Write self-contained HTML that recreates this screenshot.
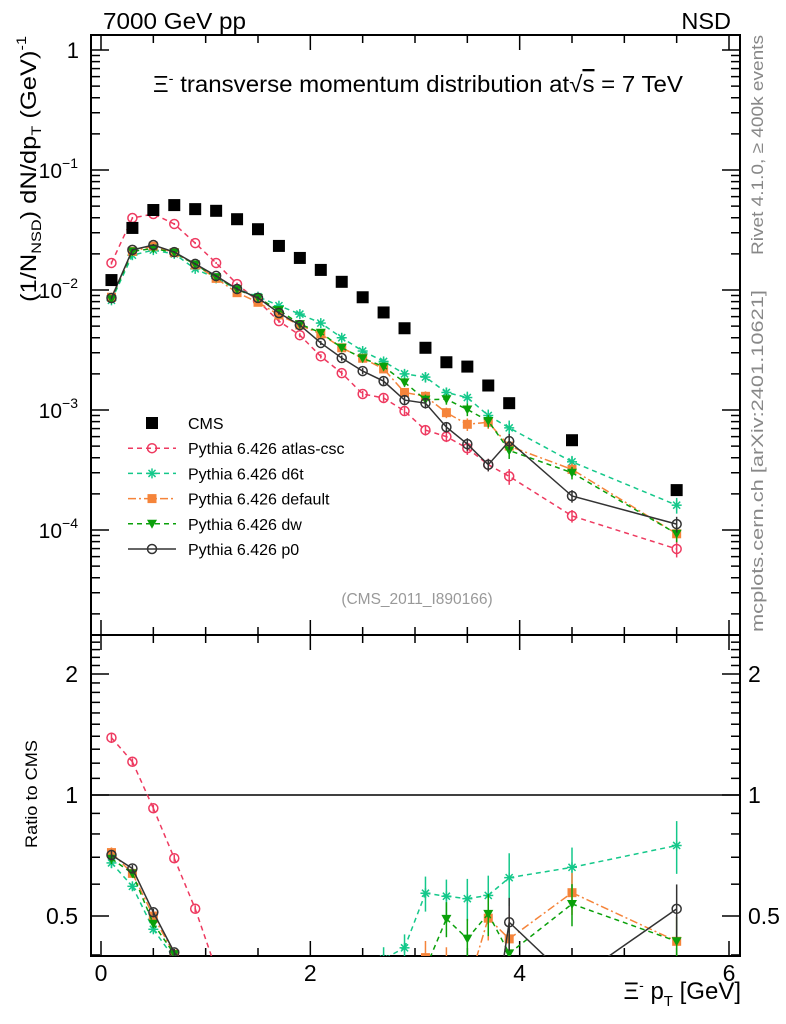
<!DOCTYPE html>
<html><head><meta charset="utf-8">
<style>
html,body{margin:0;padding:0;background:#fff;overflow:hidden;width:786px;height:1024px;}
svg{display:block;}
svg text{font-family:"Liberation Sans",sans-serif;}
</style></head>
<body>
<svg id="chart" width="786" height="1024" viewBox="0 0 786 1024" xmlns="http://www.w3.org/2000/svg">
<text x="103" y="29" font-size="23.5" textLength="143" lengthAdjust="spacingAndGlyphs">7000 GeV pp</text>
<text x="731" y="29" font-size="23.5" text-anchor="end">NSD</text>
<text x="153" y="92" font-size="23" textLength="530" lengthAdjust="spacingAndGlyphs">Ξ<tspan dy="-9" font-size="14">-</tspan><tspan dy="9"> transverse momentum distribution at</tspan><tspan>√</tspan><tspan text-decoration="overline">s</tspan> = 7 TeV</text>
<text transform="translate(763,255) rotate(-90)" font-size="17" fill="#888" textLength="220" lengthAdjust="spacingAndGlyphs">Rivet 4.1.0, ≥ 400k events</text>
<text transform="translate(763,632) rotate(-90)" font-size="17" fill="#888" textLength="342" lengthAdjust="spacingAndGlyphs">mcplots.cern.ch [arXiv:2401.10621]</text>
<text transform="translate(36,302) rotate(-90)" font-size="22" textLength="266" lengthAdjust="spacingAndGlyphs">(1/N<tspan dy="5" font-size="14">NSD</tspan><tspan dy="-5">) dN/dp</tspan><tspan dy="5" font-size="14">T</tspan><tspan dy="-5"> (GeV)</tspan><tspan dy="-10" font-size="14">-1</tspan></text>
<text transform="translate(37,848) rotate(-90)" font-size="17" textLength="108" lengthAdjust="spacingAndGlyphs">Ratio to CMS</text>
<text x="417" y="604" font-size="15.5" fill="#999" text-anchor="middle">(CMS_2011_I890166)</text>
<text x="741" y="999" font-size="24" text-anchor="end">Ξ<tspan dy="-9" font-size="14">-</tspan><tspan dy="9"> p</tspan><tspan dy="7" font-size="15">T</tspan><tspan dy="-7"> [GeV]</tspan></text>
<g id="plot"></g>
</svg>
<script>
const xs = [0.1,0.3,0.5,0.7,0.9,1.1,1.3,1.5,1.7,1.9,2.1,2.3,2.5,2.7,2.9,3.1,3.3,3.5,3.7,3.9,4.5,5.5];
const cms = [0.0121,0.0329,0.0464,0.051,0.0472,0.0457,0.0389,0.0321,0.0233,0.0185,0.0147,0.0117,0.0087,0.0065,0.0048,0.0033,0.0025,0.0023,0.0016,0.00114,0.00056,0.000215];
const atlas = [0.0168,0.0398,0.043,0.0355,0.0246,0.0168,0.0112,0.0081,0.0055,0.0042,0.0028,0.00203,0.00136,0.00126,0.00098,0.00068,0.0006,0.00048,0.00035,0.00028,0.000131,0.0000695];
const d6t = [0.0082,0.0195,0.0215,0.02,0.015,0.0125,0.0102,0.0088,0.0074,0.0063,0.0053,0.004,0.0031,0.00254,0.002,0.00188,0.0014,0.00127,0.0009,0.00071,0.00037,0.000161];
const deflt = [0.0087,0.021,0.0232,0.0205,0.0162,0.0125,0.0095,0.0079,0.0062,0.0051,0.0043,0.0033,0.0027,0.0022,0.0014,0.0013,0.00095,0.00076,0.00079,0.0005,0.00032,0.000093];
const dw = [0.0084,0.021,0.0222,0.0205,0.0163,0.0128,0.0101,0.0086,0.0068,0.0052,0.0044,0.0033,0.0027,0.0023,0.0017,0.00122,0.00123,0.00101,0.00081,0.00046,0.0003,0.000093];
const p0 = [0.00858,0.0216,0.0237,0.0207,0.0165,0.0131,0.0102,0.0086,0.00643,0.0051,0.00362,0.00271,0.00211,0.00174,0.00121,0.00114,0.00072,0.00052,0.00035,0.00055,0.000192,0.000112];
const relErr = [0.03,0.02,0.02,0.02,0.02,0.02,0.03,0.03,0.03,0.04,0.04,0.05,0.06,0.07,0.08,0.1,0.1,0.12,0.12,0.15,0.12,0.15];
const xTicks = [0,2,4,6];
const yDecades = [-4,-3,-2,-1,0];
const ratioTicks = [0.5,1,2];

const NS="http://www.w3.org/2000/svg";
const g=document.getElementById('plot');
const L=91,R=740,T=35,MB=635,RB=956;
const X=v=>101+v*(729-101)/6;
const Y=v=>50-120*Math.log10(v);
const RY=v=>795-121*Math.log2(v);
function el(t,a,p){const e=document.createElementNS(NS,t);for(const k in a)e.setAttribute(k,a[k]);(p||g).appendChild(e);return e;}

const defs=el('defs',{});
const c1=el('clipPath',{id:'cm'},defs);el('rect',{x:L,y:T,width:R-L,height:MB-T},c1);
const c2=el('clipPath',{id:'cr'},defs);el('rect',{x:L,y:MB,width:R-L,height:RB-MB},c2);

const f1=el('rect',{x:L,y:T,width:R-L,height:MB-T,fill:'none',stroke:'#000','stroke-width':2});


const f2=el('rect',{x:L,y:MB,width:R-L,height:RB-MB,fill:'none',stroke:'#000','stroke-width':2});



for(let v=0;v<=6.001;v+=0.5){
  const major=Math.abs(v-Math.round(v/2)*2)<1e-6, len=major?15:8, x=X(v);
  [[T,1],[MB,-1],[MB,1],[RB,-1]].forEach(([y0,d])=>el('line',{x1:x,x2:x,y1:y0,y2:y0+d*len,stroke:'#000','stroke-width':1.5}));
}
xTicks.forEach(v=>{const t=el('text',{x:X(v),y:981,'font-size':23,'text-anchor':'middle'});t.textContent=v;

});

for(let d=-5;d<=0;d++){for(let m=1;m<=9;m++){const v=m*Math.pow(10,d),y=Y(v);if(y<T||y>MB)continue;
 const len=m==1?18:9;
 el('line',{x1:L,x2:L+len,y1:y,y2:y,stroke:'#000','stroke-width':1.5});
 el('line',{x1:R,x2:R-len,y1:y,y2:y,stroke:'#000','stroke-width':1.5});}}
yDecades.forEach(d=>{const y=Y(Math.pow(10,d));let t;
 if(d===0){t=el('text',{x:79,y:y+8,'font-size':22,'text-anchor':'end'});t.textContent='1';}
 else{t=el('text',{x:78,y:y+8,'font-size':21,'text-anchor':'end'});t.textContent='10';
  const s=el('tspan',{dy:-10,'font-size':14},t);s.textContent='−'+(-d);}
 
 });

for(let v=0.4;v<=2.51;v+=0.1){const y=RY(v);if(y<MB||y>RB)continue;
 const major=[0.5,1,2].some(q=>Math.abs(q-v)<1e-6);const len=major?18:9;
 el('line',{x1:L,x2:L+len,y1:y,y2:y,stroke:'#000','stroke-width':1.5});
 el('line',{x1:R,x2:R-len,y1:y,y2:y,stroke:'#000','stroke-width':1.5});}
ratioTicks.forEach(v=>{const y=RY(v);
 const t=el('text',{x:78,y:y+8,'font-size':23,'text-anchor':'end'});t.textContent=v;
 
 
 const t2=el('text',{x:748,y:y+8,'font-size':23});t2.textContent=v;
 
 });
el('line',{x1:L,x2:R,y1:RY(1),y2:RY(1),stroke:'#000','stroke-width':1.5});

function marker(parent,type,x,y,col){
 if(type==='sq')return el('rect',{x:x-6,y:y-6,width:12,height:12,fill:'#000'},parent);
 if(type==='circ')return el('circle',{cx:x,cy:y,r:4.5,fill:'none',stroke:col,'stroke-width':1.5},parent);
 if(type==='fsq')return el('rect',{x:x-4.5,y:y-4.5,width:9,height:9,fill:col},parent);
 if(type==='tri')return el('path',{d:`M${x-5},${y-4}L${x+5},${y-4}L${x},${y+5}Z`,fill:col},parent);
 if(type==='star'){const gg=el('g',{stroke:col,'stroke-width':1.5},parent);
  for(let a=0;a<4;a++){const an=a*Math.PI/4;el('line',{x1:x-5*Math.cos(an),y1:y-5*Math.sin(an),x2:x+5*Math.cos(an),y2:y+5*Math.sin(an)},gg);}return gg;}
}
// clip a polyline in y to [y0,y1]; returns list of segments
function clipSegs(pts,y0,y1){
 const out=[];
 for(let i=0;i<pts.length-1;i++){
  let [ax,ay]=pts[i],[bx,by]=pts[i+1];
  if((ay>y1&&by>y1)||(ay<y0&&by<y0))continue;
  const cl=(px,py,qx,qy)=>{
   if(py>y1){const t=(y1-qy)/(py-qy);return [qx+t*(px-qx),y1];}
   if(py<y0){const t=(y0-qy)/(py-qy);return [qx+t*(px-qx),y0];}
   return [px,py];};
  const A=cl(ax,ay,bx,by),B=cl(bx,by,ax,ay);
  out.push([A,B]);
 }
 return out;
}
const series=[
 {name:'atlas-csc',d:atlas,col:'#ee3a60',m:'circ',dash:'5,4'},
 {name:'d6t',d:d6t,col:'#14c88a',m:'star',dash:'5,4'},
 {name:'default',d:deflt,col:'#f5843a',m:'fsq',dash:'8,3,2,3'},
 {name:'dw',d:dw,col:'#0aa00a',m:'tri',dash:'5,4'},
 {name:'p0',d:p0,col:'#333333',m:'circ',dash:''}
];
const gm=el('g',{'clip-path':'url(#cm)'});
const gr=el('g',{'clip-path':'url(#cr)'});
series.forEach(s=>{
 const sg=el('g',{},gm);
 
 
 const pts=xs.map((x,i)=>X(x)+','+Y(s.d[i])).join(' ');
 el('polyline',{points:pts,fill:'none',stroke:s.col,'stroke-width':1.5,'stroke-dasharray':s.dash},sg);
 const rg=el('g',{},gr);
 
 
 const rpts=xs.map((x,i)=>[X(x),RY(s.d[i]/cms[i])]);
 clipSegs(rpts,MB-2,RB+2).forEach(([A,B])=>el('line',{x1:A[0],y1:A[1],x2:B[0],y2:B[1],stroke:s.col,'stroke-width':1.5,'stroke-dasharray':s.dash},rg));
 xs.forEach((x,i)=>{
  const v=s.d[i],e=relErr[i];
  el('line',{x1:X(x),x2:X(x),y1:Y(v*(1+e)),y2:Y(v*(1-e)),stroke:s.col,'stroke-width':1.5},sg);
  marker(sg,s.m,X(x),Y(v),s.col);
  const r=v/cms[i];
  const ry=RY(r);
  if(ry<MB-8||ry>RB+8)return;
  el('line',{x1:X(x),x2:X(x),y1:Math.max(MB,RY(r*(1+e))),y2:Math.min(RB,RY(r*(1-e))),stroke:s.col,'stroke-width':1.5},rg);
  marker(rg,s.m,X(x),ry,s.col);
 });
});
const cg=el('g',{},gm);


xs.forEach((x,i)=>marker(cg,'sq',X(x),Y(cms[i]),'#000'));

const lg=el('g',{});


const entries=[{label:'CMS',m:'sq',col:'#000',dash:null}].concat(series.map(s=>({label:'Pythia 6.426 '+s.name,m:s.m,col:s.col,dash:s.dash})));
entries.forEach((en,i)=>{
 const y=423+i*25.2;
 const eg=el('g',{},lg);
 
 
 if(en.dash!==null)el('line',{x1:128,x2:176,y1:y,y2:y,stroke:en.col,'stroke-width':1.5,'stroke-dasharray':en.dash},eg);
 marker(eg,en.m,152,y,en.col);
 const t=el('text',{x:188,y:y+6,'font-size':16},eg);t.textContent=en.label;
});
</script>
</body></html>
